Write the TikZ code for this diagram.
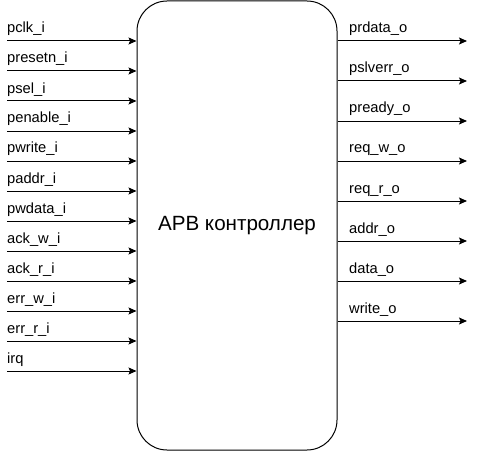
\documentclass[tikz,border=0pt]{standalone}
\usepackage{fontspec}
\setmainfont{Liberation Sans}
\usetikzlibrary{arrows.meta}

\tikzset{
  sig/.style={line width=1pt, -{Stealth[length=8pt,width=7pt,inset=1.5pt]}},
  siglabel/.style={anchor=base west, inner sep=0pt, font=\fontsize{14.7}{16}\selectfont},
  ctrlbox/.style={draw, line width=1pt, rounded corners=30pt, minimum width=200pt, minimum height=449pt, inner sep=0pt}
}

\begin{document}
\begin{tikzpicture}[x=1pt,y=-1pt]
\useasboundingbox (0,0) rectangle (477,452);

\node[ctrlbox] (ctrl) at (237,225.5) {}; % APB block
\node[font=\fontsize{20.6}{23}\selectfont] (title) at (237,226) {APB контроллер};

% inputs
\foreach \name [count=\i from 0] in {pclk\_i,presetn\_i,psel\_i,penable\_i,pwrite\_i,paddr\_i,pwdata\_i,ack\_w\_i,ack\_r\_i,err\_w\_i,err\_r\_i,irq}{
  \coordinate (in\i) at (7,41+30*\i);
  \draw[sig] (in\i) -- (in\i -| ctrl.west);
  \node[siglabel] (inl\i) at (7,33+30*\i) {\name};
}

% outputs
\foreach \name [count=\i from 0] in {prdata\_o,pslverr\_o,pready\_o,req\_w\_o,req\_r\_o,addr\_o,data\_o,write\_o}{
  \coordinate (out\i) at (467,41+40*\i);
  \draw[sig] (out\i -| ctrl.east) -- (out\i);
  \node[siglabel] (outl\i) at (349,33+40*\i) {\name};
}
\end{tikzpicture}
\end{document}
